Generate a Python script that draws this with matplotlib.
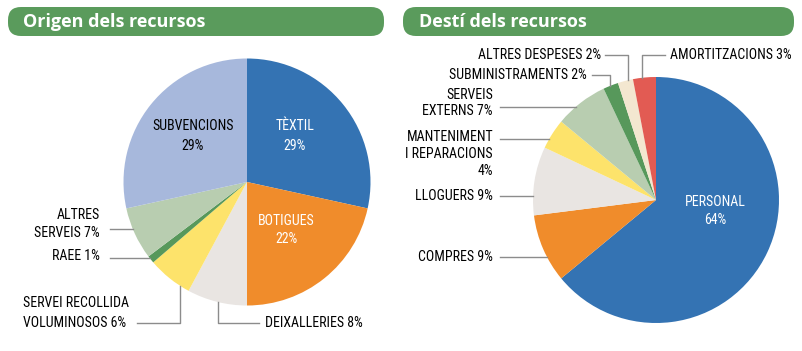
import matplotlib.pyplot as plt
from matplotlib.patches import FancyBboxPatch
from matplotlib import font_manager
from matplotlib.font_manager import FontProperties
import numpy as np

W, H = 802, 351

# --- dades ---
origen_noms = ["TÈXTIL", "BOTIGUES", "DEIXALLERIES", "SERVEI RECOLLIDA\nVOLUMINOSOS",
               "RAEE", "ALTRES\nSERVEIS", "SUBVENCIONS"]
origen_pct = [29, 22, 8, 6, 1, 7, 29]
origen_colors = ["#3473b3", "#f08c2b", "#e9e5e2", "#fde36b", "#57985b", "#b8cdb0", "#a7b8dc"]

desti_noms = ["PERSONAL", "COMPRES", "LLOGUERS", "MANTENIMENT\nI REPARACIONS",
              "SERVEIS\nEXTERNS", "SUBMINISTRAMENTS", "ALTRES DESPESES", "AMORTITZACIONS"]
desti_pct = [64, 9, 9, 4, 7, 2, 2, 3]
desti_colors = ["#3473b3", "#f08c2b", "#e9e5e2", "#fde36b", "#b8cdb0", "#57985b", "#f3e7d0", "#e25b53"]

GREEN = "#5a9b5c"
LINE = "#8c8c8c"


def pick_font(options, weight, default):
    """Primer fitxer estatic (no variable) que coincideixi; si no, el de reserva."""
    fl = font_manager.fontManager.ttflist
    for fam, size in options:
        for f in fl:
            if (f.name == fam and f.weight == weight and f.style == "normal"
                    and "[" not in f.fname):
                return FontProperties(fname=f.fname, size=size)
    return FontProperties(family=default[0], weight=weight, size=default[1])


COND = pick_font([("Roboto Condensed", 10.0), ("Archivo Narrow", 10.0),
                  ("PT Sans Narrow", 10.5), ("Liberation Sans Narrow", 9.6),
                  ("Roboto", 8.6)], 400, ("DejaVu Sans", 8.0))
TITLE = pick_font([("Montserrat", 13.2), ("Open Sans", 13.0)], 700, ("DejaVu Sans", 12.0))


def edge_x(c, r, y, side=-1):
    return c[0] + side * np.sqrt(r ** 2 - (y - c[1]) ** 2)


def edge_y(c, r, x, side=-1):
    return c[1] + side * np.sqrt(r ** 2 - (x - c[0]) ** 2)


def banner(ax, x, w, title, tx):
    box = FancyBboxPatch((x, 7), w, 29, boxstyle="round,pad=0,rounding_size=13",
                         fc=GREEN, ec="none")
    ax.add_patch(box)
    ax.text(tx, 22, title, color="white", fontproperties=TITLE,
            va="center", ha="left")


def draw_pie(ax, vals, colors, c, r):
    # eix y invertit: startangle -90 i sentit antihorari = des de dalt, horari
    ax.pie(vals, colors=colors, center=c, radius=r, startangle=-90,
           counterclock=True, wedgeprops=dict(linewidth=0))


def label(ax, x, y, s, ha="left", color="black", ls=1.25):
    ax.text(x, y, s, ha=ha, va="center", fontproperties=COND,
            color=color, linespacing=ls)


fig = plt.figure(figsize=(W / 100, H / 100), dpi=100)
ax = fig.add_axes([0, 0, 1, 1])

# ---------- Origen ----------
c1, r1 = (247, 182), 123.5
draw_pie(ax, origen_pct, origen_colors, c1, r1)
banner(ax, 8, 376, "Origen dels recursos", 23)

label(ax, 295, 136, f"{origen_noms[0]}\n{origen_pct[0]}%", ha="center", color="white", ls=1.5)
label(ax, 193, 136, f"{origen_noms[6]}\n{origen_pct[6]}%", ha="center", ls=1.5)
label(ax, 286, 230, f"{origen_noms[1]}\n{origen_pct[1]}%", ha="center", color="white", ls=1.4)

# altres serveis
label(ax, 100, 224, f"{origen_noms[5]} {origen_pct[5]}%", ha="right", ls=1.35)
ax.plot([110, edge_x(c1, r1, 229)], [229, 229], color=LINE, lw=1)
# raee
label(ax, 100, 256, f"{origen_noms[4]} {origen_pct[4]}%", ha="right")
ax.plot([110, edge_x(c1, r1, 258)], [258, 258], color=LINE, lw=1)
# servei recollida
label(ax, 23, 313, f"{origen_noms[3]} {origen_pct[3]}%", ha="left", ls=1.5)
ax.plot([137, 180, 180], [323, 323, edge_y(c1, r1, 180, 1)], color=LINE, lw=1)
# deixalleries
label(ax, 265, 323, f"{origen_noms[2]} {origen_pct[2]}%", ha="left")
ax.plot([259, 218, 218], [323, 323, edge_y(c1, r1, 218, 1)], color=LINE, lw=1)

# ---------- Destí ----------
c2, r2 = (656, 200), 123
draw_pie(ax, desti_pct, desti_colors, c2, r2)
banner(ax, 403, 391, "Destí dels recursos", 419)

label(ax, 715, 211, f"{desti_noms[0]}\n{desti_pct[0]}%", ha="center", color="white", ls=1.4)

# amortitzacions
label(ax, 670, 55, f"{desti_noms[7]} {desti_pct[7]}%", ha="left")
ax.plot([665, 642, 642], [55, 55, edge_y(c2, r2, 642, -1)], color=LINE, lw=1)
# altres despeses
label(ax, 601, 55, f"{desti_noms[6]} {desti_pct[6]}%", ha="right")
ax.plot([605, 628, 628], [55, 55, edge_y(c2, r2, 628, -1)], color=LINE, lw=1)
# subministraments
label(ax, 587, 75, f"{desti_noms[5]} {desti_pct[5]}%", ha="right")
ax.plot([592, 610, 610], [75, 75, edge_y(c2, r2, 610, -1)], color=LINE, lw=1)
# serveis externs
label(ax, 493, 103, f"{desti_noms[4]} {desti_pct[4]}%", ha="right")
ax.plot([500, edge_x(c2, r2, 107)], [107, 107], color=LINE, lw=1)
# manteniment
label(ax, 493, 154, f"{desti_noms[3]}\n{desti_pct[3]}%", ha="right")
ax.plot([500, edge_x(c2, r2, 139)], [139, 139], color=LINE, lw=1)
# lloguers
label(ax, 493, 196, f"{desti_noms[2]} {desti_pct[2]}%", ha="right")
ax.plot([500, edge_x(c2, r2, 196)], [196, 196], color=LINE, lw=1)
# compres
label(ax, 493, 257, f"{desti_noms[1]} {desti_pct[1]}%", ha="right")
ax.plot([500, edge_x(c2, r2, 257)], [257, 257], color=LINE, lw=1)

ax.set_xlim(0, W)
ax.set_ylim(H, 0)
ax.set_aspect("auto")
ax.axis("off")

fig.savefig("out.png", dpi=100)
